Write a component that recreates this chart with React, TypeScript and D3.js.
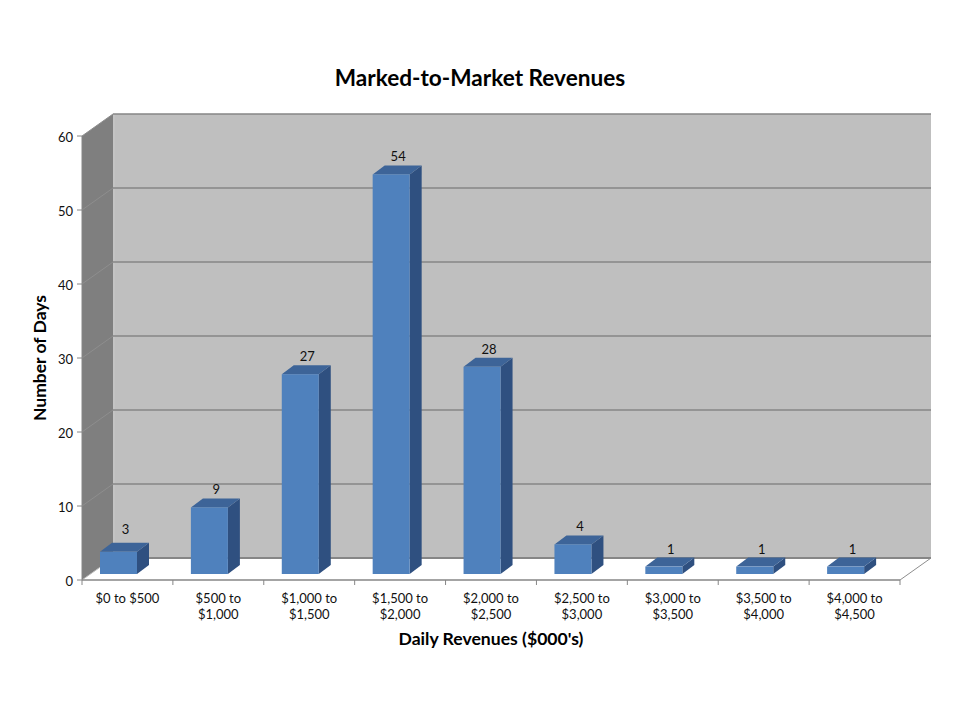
import React from "react";
import * as d3 from "d3";

const categories: string[][] = [
  ["$0 to $500"],
  ["$500 to", "$1,000"],
  ["$1,000 to", "$1,500"],
  ["$1,500 to", "$2,000"],
  ["$2,000 to", "$2,500"],
  ["$2,500 to", "$3,000"],
  ["$3,000 to", "$3,500"],
  ["$3,500 to", "$4,000"],
  ["$4,000 to", "$4,500"],
];
const values = [3, 9, 27, 54, 28, 4, 1, 1, 1];
const yTicks = [0, 10, 20, 30, 40, 50, 60];
const title = "Marked-to-Market Revenues";
const xTitle = "Daily Revenues ($000's)";
const yTitle = "Number of Days";

const FONT = "Lato, 'Open Sans', sans-serif";
const W = 960, H = 720;
const y = d3.scaleLinear().domain([0, 60]).range([580, 136]);
const x = d3.scaleBand<number>().domain(d3.range(values.length)).range([82, 900]);
const wallDx = 31, wallDy = -22;
const barDx = 12, barDy = -9;
const barW = 37, barLift = 6, barShift = 18;

const pts = (p: number[][]) => p.map((q) => q.join(",")).join(" ");

export default function App() {
  const x0 = 82, x1 = 900, y0 = y(0), yT = y(60);
  return (
    <svg width={W} height={H} viewBox={`0 0 ${W} ${H}`} style={{ position: "absolute", left: 0, top: 0, background: "#fff" }} fontFamily={FONT}>
      {/* side wall */}
      <polygon points={pts([[x0, yT], [x0 + wallDx, yT + wallDy], [x0 + wallDx, y0 + wallDy], [x0, y0]])} fill="#7f7f7f" />
      {/* back wall */}
      <rect x={x0 + wallDx} y={yT + wallDy} width={x1 - x0} height={y0 - yT} fill="#bfbfbf" />
      <line x1={x0 + wallDx + 1} x2={x0 + wallDx + 1} y1={yT + wallDy} y2={y0 + wallDy} stroke="#c8c8c8" strokeWidth={1} />
      {/* gridlines */}
      {yTicks.map((t) => (
        <g key={t}>
          <line x1={x0} y1={y(t)} x2={x0 + wallDx} y2={y(t) + wallDy} stroke={t === 0 ? "#bdbdbd" : "#8e8e8e"} strokeWidth={1} />
          <line x1={x0 + wallDx} y1={y(t) + wallDy} x2={x1 + wallDx} y2={y(t) + wallDy} stroke="#868686" strokeWidth={t === 0 ? 2 : 1.3} />
        </g>
      ))}
      {/* floor edge */}
      <line x1={x1} y1={y0} x2={x1 + wallDx} y2={y0 + wallDy} stroke="#8e8e8e" strokeWidth={1} />
      {/* axes */}
      <line x1={x0} y1={yT} x2={x0} y2={y0} stroke="#868686" strokeWidth={1} />
      <line x1={x0} y1={y0} x2={x1} y2={y0} stroke="#868686" strokeWidth={1.3} />
      {yTicks.map((t) => (
        <g key={t}>
          <line x1={x0 - 5} x2={x0} y1={y(t)} y2={y(t)} stroke="#868686" strokeWidth={1} />
          <text x={x0 - 9} y={y(t) + 5.5} textAnchor="end" fontSize={13} fill="#111">{t}</text>
        </g>
      ))}
      {d3.range(values.length + 1).map((i) => {
        const tx = x0 + i * x.bandwidth();
        return <line key={i} x1={tx} x2={tx} y1={y0} y2={y0 + 5} stroke="#868686" strokeWidth={1} />;
      })}
      {/* bars */}
      {values.map((v, i) => {
        const l = x(i)! + barShift;
        const r = l + barW;
        const b = y(0) - barLift;
        const t = y(v) - barLift;
        return (
          <g key={i}>
            <polygon points={pts([[r, t], [r + barDx, t + barDy], [r + barDx, b + barDy], [r, b]])} fill="#2f5080" />
            <polygon points={pts([[l, t], [l + barDx, t + barDy], [r + barDx, t + barDy], [r, t]])} fill="#3d6498" />
            <rect x={l} y={t} width={barW} height={b - t} fill="#4f81bd" />
            <text x={l + barW / 2 + 7} y={t + barDy - (v === 3 ? 9 : 4)} textAnchor="middle" fontSize={13} fill="#111">{v}</text>
          </g>
        );
      })}
      {/* category labels */}
      {categories.map((c, i) => (
        <text key={i} textAnchor="middle" fontSize={13} fill="#111">
          {c.map((s, j) => (
            <tspan key={j} x={x(i)! + x.bandwidth() / 2} y={603 + j * 16}>{s}</tspan>
          ))}
        </text>
      ))}
      <text x={480} y={86} textAnchor="middle" fontSize={22.6} fontWeight={700} fill="#000">{title}</text>
      <text x={491} y={645} textAnchor="middle" fontSize={17.6} fontWeight={700} fill="#000">{xTitle}</text>
      <text transform="translate(46,358) rotate(-90)" textAnchor="middle" fontSize={17.5} fontWeight={700} fill="#000">{yTitle}</text>
    </svg>
  );
}
